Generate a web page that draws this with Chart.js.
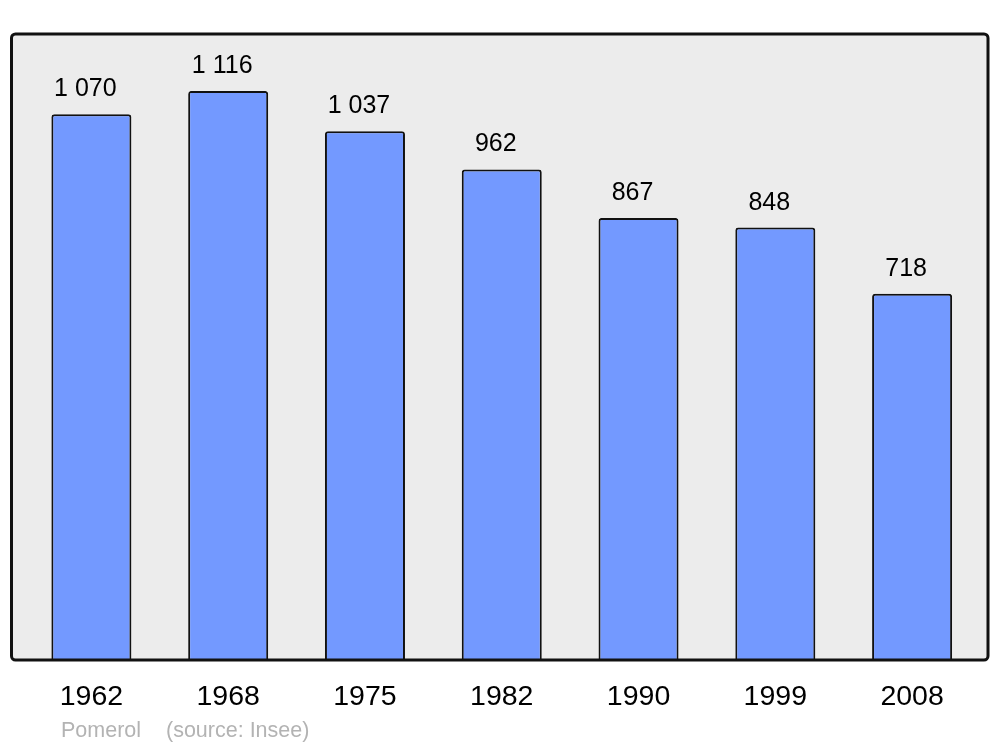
<!DOCTYPE html>
<html>
<head>
<meta charset="utf-8">
<script src="https://cdn.jsdelivr.net/npm/chart.js@4/dist/chart.umd.min.js"></script>
<style>
html,body{margin:0;padding:0;background:#fff;}
canvas{display:block;}
</style>
</head>
<body>
<canvas id="c" width="1000" height="747"></canvas>
<script>
const years = ["1962","1968","1975","1982","1990","1999","2008"];
const population = [1070, 1116, 1037, 962, 867, 848, 718];
const footerPlace = "Pomerol";
const footerSource = "(source: Insee)";

const FONT = '"Liberation Sans", Arial, sans-serif';

function fmt(v){
  return String(v).replace(/\B(?=(\d{3})+(?!\d))/g, " ");
}

const framePlugin = {
  id: 'frame',
  beforeDraw(chart){
    const {ctx, chartArea:a} = chart;
    const x0 = a.left - 11.5, x1 = a.right + 7.5, y0 = a.top, y1 = a.bottom;
    ctx.save();
    ctx.beginPath();
    ctx.roundRect(x0, y0, x1 - x0, y1 - y0, 4);
    ctx.fillStyle = '#ececec';
    ctx.fill();
    ctx.restore();
  },
  afterDatasetsDraw(chart){
    const {ctx, chartArea:a} = chart;
    const x0 = a.left - 11.5, x1 = a.right + 7.5, y0 = a.top, y1 = a.bottom;
    ctx.save();
    ctx.beginPath();
    ctx.roundRect(x0, y0, x1 - x0, y1 - y0, 4);
    ctx.lineWidth = 3;
    ctx.strokeStyle = '#111';
    ctx.stroke();
    // value labels
    const meta = chart.getDatasetMeta(0);
    ctx.fillStyle = '#000';
    ctx.font = '25px ' + FONT;
    ctx.textAlign = 'center';
    ctx.textBaseline = 'alphabetic';
    meta.data.forEach((bar, i) => {
      ctx.fillText(fmt(population[i]), bar.x - 6, bar.y - 18);
    });
    // footer
    ctx.fillStyle = '#b3b3b3';
    ctx.font = '21.5px ' + FONT;
    ctx.textAlign = 'left';
    ctx.fillText(footerPlace, 61, 737);
    ctx.fillText(footerSource, 166, 737);
    ctx.restore();
  }
};

new Chart(document.getElementById('c'), {
  type: 'bar',
  data: {
    labels: years,
    datasets: [{
      data: population,
      backgroundColor: '#7399ff',
      borderColor: '#111',
      borderWidth: 2,
      borderRadius: {topLeft: 3, topRight: 3},
      borderSkipped: 'start',
      barPercentage: 0.585,
      categoryPercentage: 1
    }]
  },
  options: {
    responsive: false,
    animation: false,
    devicePixelRatio: 1,
    layout: { padding: { left: 23, right: 19.5, top: 34, bottom: 0 } },
    plugins: { legend: { display: false }, tooltip: { enabled: false } },
    scales: {
      x: {
        grid: { display: false, drawTicks: false },
        border: { display: false },
        ticks: { color: '#000', font: { family: FONT, size: 28.5 }, padding: 20 },
        afterFit(scale){ scale.height = 87; }
      },
      y: {
        display: false,
        min: 0,
        max: 1227.6
      }
    }
  },
  plugins: [framePlugin]
});
</script>
</body>
</html>
